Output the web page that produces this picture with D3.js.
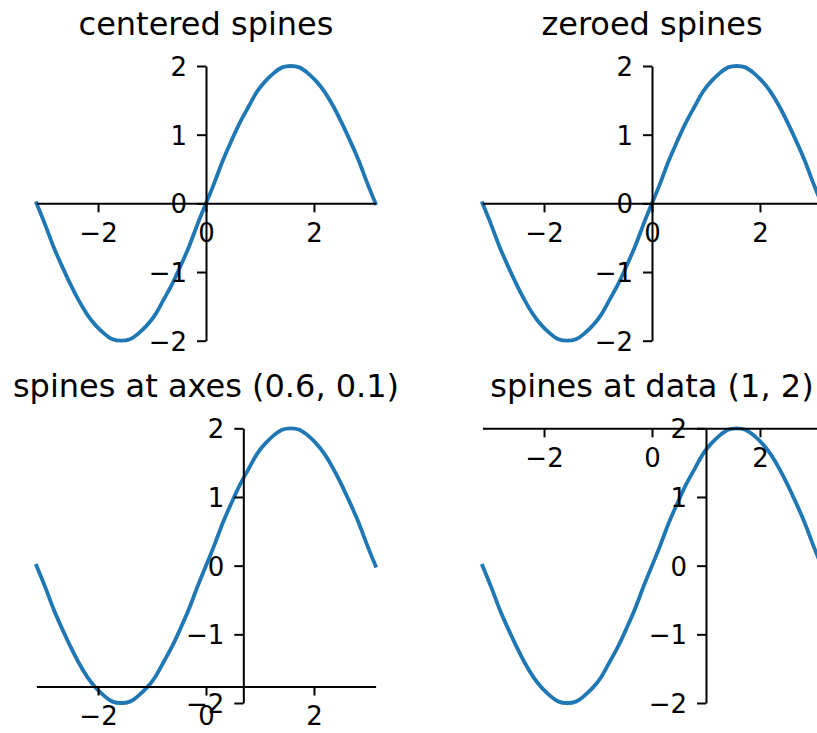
<!DOCTYPE html>
<html>
<head>
<meta charset="utf-8">
<script src="https://cdn.jsdelivr.net/npm/d3@7"></script>
<style>
  html, body { margin: 0; padding: 0; background: #fff; overflow: hidden; }
  svg { display: block; }
  text { font-family: "DejaVu Sans", sans-serif; }
</style>
</head>
<body>
<script>
const xs = [-3.14, -2.98, -2.83, -2.67, -2.51, -2.36, -2.20, -2.04, -1.88, -1.73,
            -1.57, -1.41, -1.26, -1.10, -0.94, -0.79, -0.63, -0.47, -0.31, -0.16,
             0.00,  0.16,  0.31,  0.47,  0.63,  0.79,  0.94,  1.10,  1.26,  1.41,
             1.57,  1.73,  1.88,  2.04,  2.20,  2.36,  2.51,  2.67,  2.83,  2.98, 3.14];
const ys = [ 0.00, -0.31, -0.62, -0.91, -1.18, -1.41, -1.62, -1.78, -1.90, -1.98,
            -2.00, -1.98, -1.90, -1.78, -1.62, -1.41, -1.18, -0.91, -0.62, -0.31,
             0.00,  0.31,  0.62,  0.91,  1.18,  1.41,  1.62,  1.78,  1.90,  1.98,
             2.00,  1.98,  1.90,  1.78,  1.62,  1.41,  1.18,  0.91,  0.62,  0.31, 0.00];
const xTicks = [-2, 0, 2];
const yTicks = [-2, -1, 0, 1, 2];
const titles = ["centered spines", "zeroed spines", "spines at axes (0.6, 0.1)", "spines at data (1, 2)"];

const W = 817, H = 733;
const svg = d3.select("body").append("svg").attr("width", W).attr("height", H);

const fmt = d => d < 0 ? "\u2212" + Math.abs(d) : String(d);
const pts = xs.map((x, i) => [x, ys[i]]);

const boxes = [
  {x0: 36.4, x1: 375.6, y0: 66, y1: 340.7},
  {x0: 482.4, x1: 821.6, y0: 66, y1: 340.7},
  {x0: 36.4, x1: 375.6, y0: 428.3, y1: 703},
  {x0: 482.4, x1: 821.6, y0: 428.3, y1: 703}
];

const TICK = 9, PAD = 9, FS = 26;

boxes.forEach((b, i) => {
  const x = d3.scaleLinear().domain([-Math.PI, Math.PI]).range([b.x0, b.x1]);
  const y = d3.scaleLinear().domain([-2, 2]).range([b.y1, b.y0]);
  const g = svg.append("g");

  // spine positions
  let sx, sy;
  if (i === 0) { sx = (b.x0 + b.x1) / 2; sy = (b.y0 + b.y1) / 2; }
  else if (i === 1) { sx = x(0); sy = y(0); }
  else if (i === 2) { sx = b.x0 + 0.61 * (b.x1 - b.x0); sy = b.y1 - 0.06 * (b.y1 - b.y0); }
  else { sx = x(1); sy = y(2); }

  // curve
  g.append("path")
    .datum(pts)
    .attr("fill", "none")
    .attr("stroke", "#1f77b4")
    .attr("stroke-width", 3.8)
    .attr("stroke-linecap", "square")
    .attr("d", d3.line().x(d => x(d[0])).y(d => y(d[1])).curve(d3.curveNatural));

  // x axis (bottom spine)
  const ax = g.append("g").attr("transform", `translate(0,${sy})`)
    .call(d3.axisBottom(x).tickValues(xTicks).tickFormat(fmt)
      .tickSize(TICK).tickSizeOuter(0).tickPadding(PAD));
  // y axis (left spine)
  const ay = g.append("g").attr("transform", `translate(${sx},0)`)
    .call(d3.axisLeft(y).tickValues(yTicks).tickFormat(fmt)
      .tickSize(TICK).tickSizeOuter(0).tickPadding(PAD + 1));

  [ax, ay].forEach(a => {
    a.select(".domain").attr("stroke", "#000").attr("stroke-width", 2);
    a.selectAll(".tick line").attr("stroke", "#000").attr("stroke-width", 2);
    a.selectAll(".tick text").attr("fill", "#000")
      .style("font-family", "'DejaVu Sans', sans-serif").style("font-size", FS + "px");
  });
  ax.selectAll(".tick text").attr("dy", "0.8em");
  ay.selectAll(".tick text").attr("dy", "0.36em");

  // title
  svg.append("text")
    .attr("x", (b.x0 + b.x1) / 2)
    .attr("y", b.y0 - 31)
    .attr("text-anchor", "middle")
    .style("font-size", "32px")
    .attr("fill", "#000")
    .text(titles[i]);
});
</script>
</body>
</html>
